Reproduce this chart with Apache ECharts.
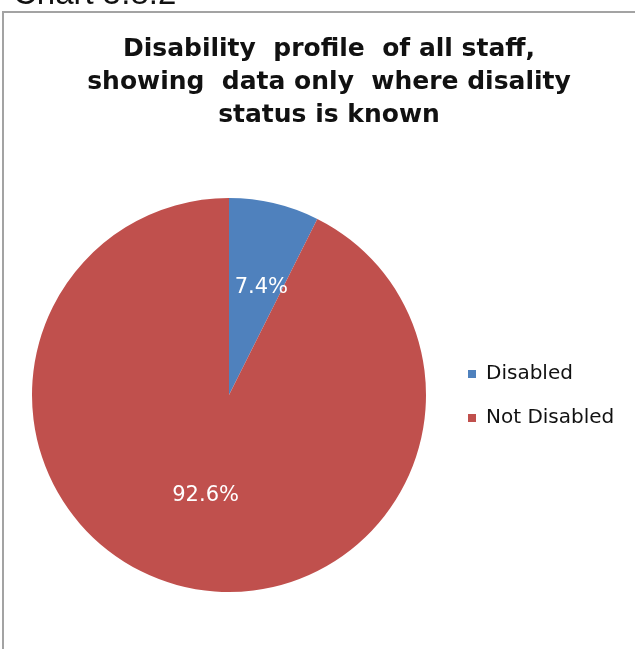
<!DOCTYPE html>
<html>
<head>
<meta charset="utf-8">
<style>
  html, body { margin: 0; padding: 0; background: #fff; }
  #chart { width: 635px; height: 649px; }
</style>
<script src="https://cdn.jsdelivr.net/npm/echarts@6/dist/echarts.min.js"></script>
</head>
<body>
<div id="chart"></div>
<script>
// Staff disability profile (share of staff whose status is known)
const categories = ['Disabled', 'Not Disabled'];
const shares = [7.4, 92.6];
const sliceColors = ['#4F81BD', '#C0504D'];

const FONT = "'DejaVu Sans', Verdana, sans-serif";

const chart = echarts.init(document.getElementById('chart'), null, { renderer: 'canvas' });

const pieData = categories.map((name, i) => ({
  name: name,
  value: shares[i],
  itemStyle: { color: sliceColors[i] },
  label: i === 0 ? { offset: [9, -9] } : { offset: [0, 2] }
}));

chart.setOption({
  animation: false,
  backgroundColor: '#ffffff',
  title: {
    text: 'Disability  profile  of all staff,\nshowing  data only  where disality\nstatus is known',
    left: 324,
    top: 28,
    textAlign: 'center',
    textStyle: {
      fontFamily: FONT,
      fontWeight: 'bold',
      fontSize: 25,
      lineHeight: 33,
      color: '#111'
    }
  },
  legend: {
    orient: 'vertical',
    left: 463,
    top: 359,
    itemWidth: 8,
    itemHeight: 8,
    itemGap: 24,
    icon: 'rect',
    data: categories,
    textStyle: {
      fontFamily: FONT,
      fontSize: 20,
      color: '#111',
      padding: [0, 0, 0, 5]
    }
  },
  graphic: [
    {
      type: 'rect',
      shape: { x: 3, y: 12, width: 700, height: 700 },
      style: { fill: 'none', stroke: '#a3a3a3', lineWidth: 2 },
      silent: true
    },
    {
      type: 'text',
      left: 13,
      top: -22,
      style: {
        text: 'Chart 5.8.2',
        font: "33px 'Liberation Sans'",
        fill: '#111'
      }
    }
  ],
  series: [
    {
      type: 'pie',
      center: [229, 395],
      radius: 197,
      startAngle: 90,
      clockwise: true,
      data: pieData,
      label: {
        show: true,
        position: 'inside',
        formatter: (p) => p.value.toFixed(1) + '%',
        fontFamily: FONT,
        fontSize: 21,
        color: '#ffffff'
      },
      labelLine: { show: false },
      emphasis: { disabled: true }
    }
  ]
});
</script>
</body>
</html>
